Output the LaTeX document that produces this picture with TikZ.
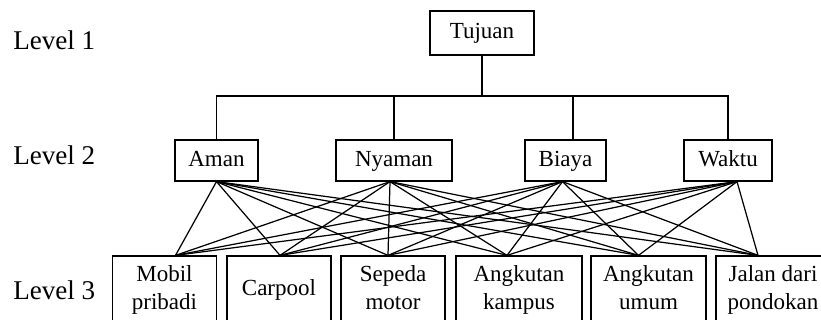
\documentclass[tikz,border=0pt]{standalone}
\usepackage{fontspec}
\setmainfont{Liberation Serif}
\usetikzlibrary{positioning}
\tikzset{
  kotak/.style={draw, line width=0.7pt, inner sep=0pt, align=center,
    text height=0.66em, text depth=0pt,
    font=\fontsize{13.1}{15.9}\selectfont},
  kotakdua/.style={kotak, text height=0.66em+15.9pt},
  level/.style={anchor=west, inner sep=0pt, font=\fontsize{15.4}{18}\selectfont},
  garis/.style={line width=0.7pt}
}
\begin{document}
\begin{tikzpicture}[x=0.2mm, y=-0.2mm]
        \useasboundingbox (0,0) rectangle (821,320);

        % Level labels
        \node[level] (lv1) at (13,40) {Level 1};
        \node[level] (lv2) at (13,155) {Level 2};
        \node[level] (lv3) at (13,290) {Level 3};

        % Goal
        \node[kotak, minimum width=20.8mm, minimum height=8.8mm] (tujuan) at (482,33) {Tujuan};

        % Criteria
        \node[kotak, minimum width=16.6mm, minimum height=8.2mm] (aman) at (216.5,160.5) {Aman};
        \node[kotak, minimum width=23.2mm, minimum height=8.2mm] (nyaman) at (394,160.5) {Nyaman};
        \node[kotak, minimum width=16.2mm, minimum height=8.2mm] (biaya) at (565.5,160.5) {Biaya};
        \node[kotak, minimum width=17.6mm, minimum height=8.2mm] (waktu) at (728,160.5) {Waktu};

        % Alternatives
        \node[kotakdua, minimum width=20.8mm, minimum height=13.4mm] (mobil) at (164.5,289.5) {Mobil\\pribadi};
        \node[kotak, minimum width=20.8mm, minimum height=13.4mm] (carpool) at (279,289.5) {Carpool};
        \node[kotakdua, minimum width=20.8mm, minimum height=13.4mm] (sepeda) at (393,289.5) {Sepeda\\motor};
        \node[kotakdua, minimum width=25.2mm, minimum height=13.4mm] (kampus) at (519,289.5) {Angkutan\\kampus};
        \node[kotakdua, minimum width=23mm, minimum height=13.4mm] (umum) at (648.5,289.5) {Angkutan\\umum};
        \node[kotakdua, minimum width=22.8mm, minimum height=13.4mm] (jalan) at (773,289.5) {Jalan dari\\pondokan};

        % Tree from goal to criteria
        \coordinate (cabang) at (482,96);
        \draw[garis] (tujuan) -- (cabang);
        \draw[garis] (aman.north) |- (waktu.north |- cabang) -- (waktu.north);
        \draw[garis] (nyaman.north) -- (nyaman.north |- cabang);
        \draw[garis] ([xshift=1.5mm]biaya.north) -- ([xshift=1.5mm]biaya.north |- cabang);

        % Criteria to alternatives
        \foreach \n/\dx in {aman/0, nyaman/-0.8, biaya/-0.6, waktu/1.8}
          \coordinate (\n-b) at ([xshift=\dx mm]\n.south);
        \foreach \n/\dx in {mobil/2.2, carpool/0.2, sepeda/-1, kampus/-2.4, umum/-2, jalan/-3}
          \coordinate (\n-t) at ([xshift=\dx mm]\n.north);
        \foreach \k in {aman,nyaman,biaya,waktu}
          \foreach \a in {mobil,carpool,sepeda,kampus,umum,jalan}
            \draw[garis] (\k-b) -- (\a-t);
    \end{tikzpicture}
\end{document}
